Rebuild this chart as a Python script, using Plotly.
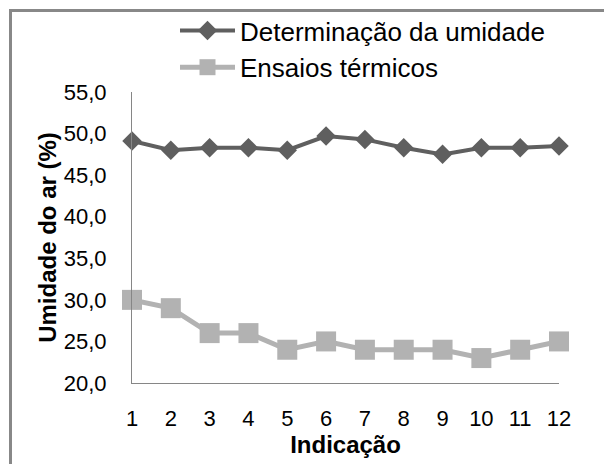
import plotly.graph_objects as go

indicacao = [1, 2, 3, 4, 5, 6, 7, 8, 9, 10, 11, 12]
determinacao = [49.1, 48.0, 48.3, 48.3, 48.0, 49.7, 49.3, 48.3, 47.5, 48.3, 48.3, 48.5]
ensaios = [30.0, 29.0, 26.0, 26.0, 24.0, 25.0, 24.0, 24.0, 24.0, 23.0, 24.0, 25.0]
y_ticks = [20, 25, 30, 35, 40, 45, 50, 55]

# page body has an 8px margin; build the figure 8px smaller and offset
OFF = 8
W, H = 612 - OFF, 464 - OFF
ML, MR, MT, MB = 132 - OFF, 53, 92 - OFF, 81
PW, PH = W - ML - MR, H - MT - MB


def px_x(p):
    return (p - OFF - ML) / PW


def px_y(p):
    return (H - MB - (p - OFF)) / PH


fig = go.Figure()
fig.add_trace(go.Scatter(
    x=indicacao, y=determinacao, name="Determinação da umidade",
    mode="lines+markers", legendgroup="a",
    line=dict(color="#5f5f5f", width=4),
    marker=dict(symbol="diamond", size=15, color="#5f5f5f"),
    cliponaxis=False,
))
fig.add_trace(go.Scatter(
    x=indicacao, y=ensaios, name="Ensaios térmicos",
    mode="lines+markers", legendgroup="b",
    line=dict(color="#b2b2b2", width=5),
    marker=dict(symbol="square", size=20, color="#b2b2b2"),
    cliponaxis=False,
))

fig.add_shape(type="rect", xref="paper", yref="paper",
              x0=px_x(10.5), x1=px_x(640),
              y0=px_y(500), y1=px_y(10.5),
              line=dict(color="#888888", width=3), fillcolor="rgba(0,0,0,0)",
              layer="below")

fig.update_layout(
    width=W, height=H,
    margin=dict(l=ML, r=MR, t=MT, b=MB, autoexpand=False),
    paper_bgcolor="white", plot_bgcolor="white",
    separators=", ",
    font=dict(family="Liberation Sans, Arial, sans-serif", color="#000000"),
    showlegend=True,
    legend=dict(
        x=px_x(175), y=px_y(7), xanchor="left", yanchor="top",
        font=dict(size=26, color="#000000"),
        bgcolor="rgba(0,0,0,0)", tracegroupgap=0, itemwidth=55,
    ),
    xaxis=dict(
        range=[1, 12], tickvals=indicacao, ticktext=[str(v) for v in indicacao],
        showgrid=False, zeroline=False, showline=True, linecolor="#868686",
        linewidth=1, ticks="", ticklabelstandoff=16, automargin=False,
        tickfont=dict(size=22),
        title=dict(text="<b>Indicação</b>", font=dict(size=24), standoff=0),
    ),
    yaxis=dict(
        range=[20, 55], tickvals=y_ticks, tickformat=".1f",
        showgrid=False, zeroline=False, showline=True, linecolor="#868686",
        linewidth=1, ticks="", ticklabelstandoff=20, automargin=False,
        tickfont=dict(size=22),
        title=dict(text="<b>Umidade do ar (%)</b>", font=dict(size=24), standoff=0),
    ),
)

fig.write_html("out.html")
